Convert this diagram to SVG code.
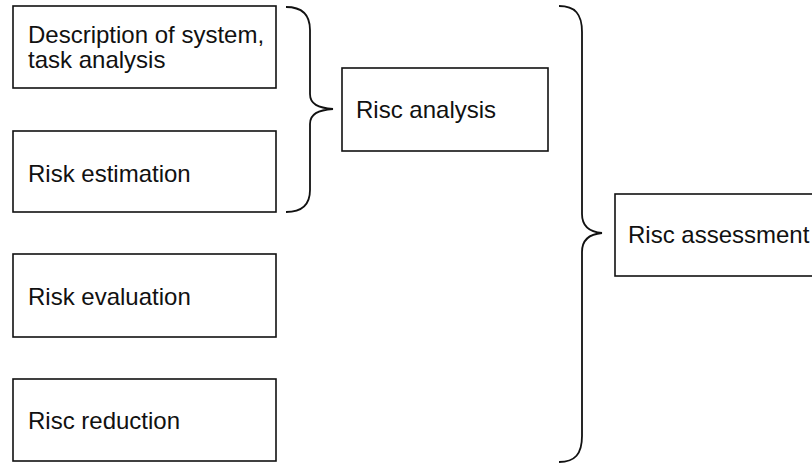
<svg xmlns="http://www.w3.org/2000/svg" width="812" height="465" viewBox="0 0 812 465">
<style>
.box{fill:#fff;stroke:#111;stroke-width:1.6}
.t{font-family:"Liberation Sans",Arial,sans-serif;font-size:24px;fill:#111}
.br{fill:none;stroke:#111;stroke-width:1.8}
</style>
<rect width="812" height="465" fill="#fff"/>
<g id="n1"><rect class="box" x="13" y="6" width="263" height="82"/><text class="t" x="28" y="43">Description of system,</text><text class="t" x="28" y="68">task analysis</text></g>
<g id="n2"><rect class="box" x="13" y="131" width="263" height="81"/><text class="t" x="28" y="182">Risk estimation</text></g>
<g id="n3"><rect class="box" x="13" y="254" width="263" height="83"/><text class="t" x="28" y="305">Risk evaluation</text></g>
<g id="n4"><rect class="box" x="13" y="379" width="263" height="82"/><text class="t" x="28" y="429">Risc reduction</text></g>
<g id="n5"><rect class="box" x="342" y="68" width="206" height="83"/><text class="t" x="356" y="118">Risc analysis</text></g>
<g id="n6"><rect class="box" x="615" y="194" width="205" height="82"/><text class="t" x="628" y="243">Risc assessment</text></g>
<g id="connectors">
<path class="br" d="M286,7 C302,7 310,14 310,30 L310,94 C310,104 318,108 333,109 C318,110 310,114 310,124 L310,190 C310,205 302,212 286,212"/>
<path class="br" d="M559,6 C575,6 582,14 582,32 L582,214 C582,226 590,232 602,233 C590,234 582,240 582,252 L582,436 C582,454 575,462 559,462"/>
</g>
</svg>
